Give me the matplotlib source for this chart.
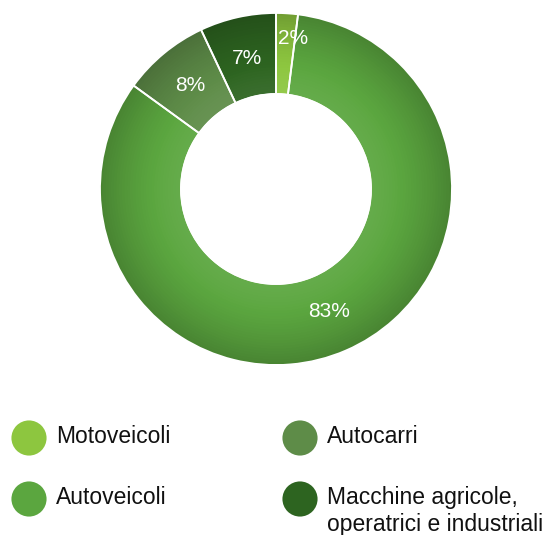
import numpy as np
import matplotlib.pyplot as plt
import matplotlib.colors as mcolors

plt.rcParams['font.family'] = ['Liberation Sans', 'DejaVu Sans']

categories = ['Motoveicoli', 'Autoveicoli', 'Autocarri',
              'Macchine agricole,\noperatrici e industriali']
shares = [2, 83, 8, 7]
colors = ['#8dc63f', '#5ba63f', '#5e8c48', '#2d6420']

W, H = 546, 535
fig = plt.figure(figsize=(W / 100, H / 100), dpi=100)

# donut axes, centre ~ (276, 189) px, radius 176 px
cx, cy, R = 276, 189, 176
ax = fig.add_axes([(cx - R) / W, (H - cy - R) / H, 2 * R / W, 2 * R / H])
ax.set_xlim(-1, 1)
ax.set_ylim(-1, 1)
ax.set_aspect('equal')
ax.axis('off')

inner = 0.54


def shade(c, f):
    rgb = np.array(mcolors.to_rgb(c))
    if f >= 1:
        return tuple(rgb + (1 - rgb) * (f - 1))
    return tuple(rgb * f)


# radial shading: darker at the outer edge
n = 30
for i in range(n):
    r = 1 - i * (1 - inner) / n
    t = (r - inner) / (1 - inner)
    f = 1.06 - 0.26 * t ** 1.5
    ax.pie(shares, radius=r, startangle=90, counterclock=False,
           colors=[shade(c, f) for c in colors],
           wedgeprops=dict(edgecolor='none', linewidth=0))

# separators and hole
ax.pie(shares, radius=1, startangle=90, counterclock=False,
       colors=['none'] * len(shares),
       wedgeprops=dict(width=1 - inner, edgecolor='white', linewidth=1.3))
ax.add_patch(plt.Circle((0, 0), inner, color='white', zorder=5))

# percentage labels
start = 90
for v in shares:
    mid = start - v * 3.6 / 2
    start -= v * 3.6
    if v > 3:
        d = 0.76
    else:
        d, mid = 0.86, mid - 3
    a = np.radians(mid)
    ax.text(d * np.cos(a), d * np.sin(a), f'{v}%', ha='center', va='center',
            color='white', fontsize=15, zorder=6)
ax.set_xlim(-1, 1)
ax.set_ylim(-1, 1)

# legend
lx = [29, 300, 29, 300]
ly = [438, 438, 499, 499]
order = [0, 2, 1, 3]
leg = fig.add_axes([0, 0, 1, 1])
leg.set_xlim(0, W)
leg.set_ylim(H, 0)
leg.axis('off')
for k, idx in enumerate(order):
    leg.scatter(lx[k], ly[k], s=640, color=colors[idx], edgecolor='none')
    leg.text(lx[k] + 27, ly[k] - 13, categories[idx], ha='left', va='top',
             fontsize=16.5, color='#111111', linespacing=1.22)

fig.savefig('out.png', dpi=100)
